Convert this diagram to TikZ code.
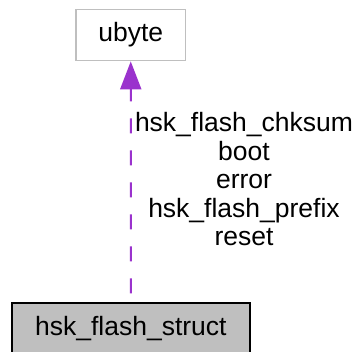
\documentclass[tikz,border=0pt]{standalone}
\usepackage{fontspec}
\setmainfont{Liberation Sans}
\usetikzlibrary{arrows.meta}
\definecolor{edgepurple}{HTML}{9A32CD}
\definecolor{boxgray}{HTML}{BFBFBF}
\begin{document}
\begin{tikzpicture}[x=1pt,y=-1pt,
  every node/.style={font=\fontsize{26.5}{28.6}\selectfont, inner sep=0pt},
  classbox/.style={rectangle, minimum height=51pt, text height=19pt, text depth=5.5pt, line width=1.8pt},
  extbox/.style={classbox, draw=boxgray, fill=white},
  mainbox/.style={classbox, draw=black, fill=boxgray},
  usage/.style={draw=edgepurple, line width=2pt, dash pattern=on 15pt off 17pt, dash phase=23pt,
    -{Triangle[length=28pt,width=21pt,fill=edgepurple]}},
  edgelabel/.style={align=center, anchor=north}
]
\clip (0,0) rectangle (359,351);
\fill[white] (0,0) rectangle (359,351);
\node[extbox, minimum width=109.5pt] (ubyte) at (130.75,35) {ubyte};
\node[mainbox, minimum width=238.3pt] (struct) at (130.85,328.8) {hsk\_flash\_struct};
\draw[usage] (struct.north) -- (ubyte.south);
\node[edgelabel] (lbl) at (244,112) {hsk\_flash\_chksum\\boot\\error\\hsk\_flash\_prefix\\reset};
\end{tikzpicture}
\end{document}
